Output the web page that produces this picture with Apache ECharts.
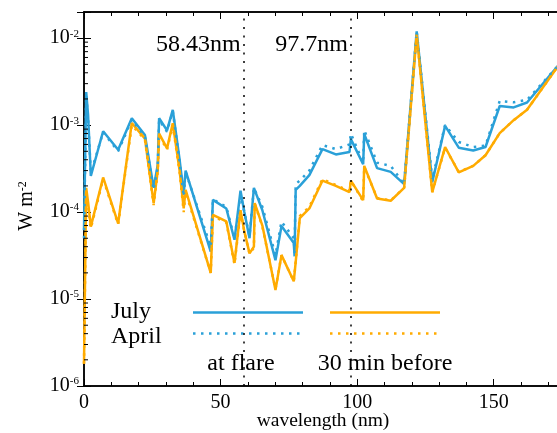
<!DOCTYPE html>
<html><head><meta charset="utf-8">
<script src="https://cdn.jsdelivr.net/npm/echarts@6.0.0/dist/echarts.min.js"></script>
<style>html,body{margin:0;padding:0;background:#fff}#c{width:557px;height:433px}</style>
</head><body><div id="c"></div>
<script>
const wavelengths = [0, 0.8, 1.5, 2.5, 7, 12.5, 17.5, 22.3, 25.5, 27, 27.5, 30.4, 32.5, 35, 36.5, 37.2,
  46.4, 47.2, 52.1, 55.1, 57.3, 58.7, 60.6, 62.2, 62.5, 65.3, 70.1, 72.3, 76.8, 77.1, 77.5, 79,
  82.5, 87.3, 92.2, 97.2, 97.7, 102.2, 102.6, 107.3, 112.3, 117.2, 121.8, 127.5, 132.2, 137.2,
  142.5, 147, 152.2, 157.3, 162.2, 174];
const julyFlare = [6.2e-5, 2.4e-3, 1.3e-3, 2.6e-4, 8.5e-4, 5.2e-4, 1.2e-3, 7.7e-4, 1.9e-4, 3.5e-4, 1.2e-3, 8.7e-4, 1.5e-3, 4.0e-4, 1.6e-4, 3.0e-4,
  3.5e-5, 1.38e-4, 1.1e-4, 4.8e-5, 1.76e-4, 1.0e-4, 5.0e-5, 1.9e-4, 1.85e-4, 1.05e-4, 2.8e-5, 6.9e-5, 4.4e-5, 3.1e-5, 1.8e-4, 2.0e-4,
  2.66e-4, 5.3e-4, 4.6e-4, 4.9e-4, 6.9e-4, 3.56e-4, 7.9e-4, 3.2e-4, 2.9e-4, 2.1e-4, 1.2e-2, 2.2e-4, 9.8e-4, 5.5e-4,
  5.1e-4, 5.6e-4, 1.66e-3, 1.6e-3, 1.82e-3, 5.0e-3];
const aprilFlare = [5.0e-5, 2.2e-3, 1.2e-3, 2.8e-4, 8.3e-4, 5.0e-4, 1.15e-3, 7.4e-4, 1.8e-4, 3.3e-4, 1.15e-3, 8.4e-4, 1.45e-3, 3.8e-4, 1.5e-4, 2.9e-4,
  4.0e-5, 1.4e-4, 1.15e-4, 5.0e-5, 1.6e-4, 1.0e-4, 5.3e-5, 1.9e-4, 1.85e-4, 1.15e-4, 3.2e-5, 7.8e-5, 5.0e-5, 3.4e-5, 2.1e-4, 2.3e-4,
  3.0e-4, 5.9e-4, 5.3e-4, 6.0e-4, 8.0e-4, 3.7e-4, 8.8e-4, 3.7e-4, 3.4e-4, 2.1e-4, 1.2e-2, 2.4e-4, 1.0e-3, 6.4e-4,
  5.6e-4, 5.8e-4, 1.9e-3, 1.83e-3, 1.95e-3, 5.0e-3];
const julyBefore = [1.8e-6, 1.9e-4, 1.3e-4, 6.8e-5, 2.5e-4, 7.4e-5, 1.06e-3, 7.0e-4, 1.26e-4, 3.0e-4, 8.0e-4, 5.4e-4, 1.05e-3, 3.0e-4, 1.1e-4, 1.8e-4,
  2.0e-5, 9.3e-5, 7.8e-5, 2.6e-5, 1.05e-4, 6.0e-5, 3.35e-5, 4.0e-5, 1.27e-4, 7.0e-5, 1.27e-5, 3.2e-5, 1.6e-5, 1.54e-5, 2.66e-5, 8.5e-5,
  1.1e-4, 2.3e-4, 2.0e-4, 1.7e-4, 2.3e-4, 1.37e-4, 3.4e-4, 1.43e-4, 1.35e-4, 1.9e-4, 1.1e-2, 1.7e-4, 5.6e-4, 2.86e-4,
  3.4e-4, 4.5e-4, 8.1e-4, 1.14e-3, 1.5e-3, 5.0e-3];
const aprilBefore = [1.8e-6, 1.8e-4, 1.2e-4, 6.5e-5, 2.4e-4, 7.2e-5, 1.0e-3, 6.8e-4, 1.2e-4, 2.9e-4, 7.6e-4, 5.2e-4, 1.0e-3, 2.9e-4, 1.0e-4, 1.7e-4,
  2.0e-5, 9.0e-5, 7.6e-5, 2.5e-5, 1.0e-4, 6.0e-5, 3.3e-5, 3.9e-5, 1.25e-4, 6.8e-5, 1.3e-5, 3.2e-5, 1.6e-5, 1.55e-5, 2.7e-5, 9.0e-5,
  1.15e-4, 2.4e-4, 2.05e-4, 1.75e-4, 2.3e-4, 1.33e-4, 3.3e-4, 1.45e-4, 1.36e-4, 1.9e-4, 1.1e-2, 1.7e-4, 5.5e-4, 2.9e-4,
  3.4e-4, 4.5e-4, 8.1e-4, 1.14e-3, 1.5e-3, 5.0e-3];
const markerLines = [58.43, 97.7];
const markerLabels = ['58.43nm', '97.7nm'];
const rowLabels = ['July', 'April'];
const colLabels = ['at flare', '30 min before'];

const BLUE = '#2aa0d8', ORANGE = '#ffab00', FONT = 'Liberation Serif';
const DOT = [2.5, 5.5];
const yMinor = [];
for (let e = -6; e <= -2; e++) for (let m = 2; m <= 9; m++) { const v = m * Math.pow(10, e); if (v < 0.02) yMinor.push(v); }

function pairs(ys) { return wavelengths.map((w, i) => [w, ys[i]]); }
const chart = echarts.init(document.getElementById('c'));
const axisLineStyle = { color: '#000', width: 1.5 };
function xAx(pos, interval, len, labels) {
  return {
    type: 'value', min: 0, max: 175, interval: interval, position: pos, gridIndex: 0,
    axisLine: { show: true, onZero: false, lineStyle: axisLineStyle },
    axisTick: { show: true, inside: true, length: len, lineStyle: { color: '#000', width: 1 } },
    splitLine: { show: false },
    axisLabel: labels ? {
      show: true, margin: 7, color: '#000', fontSize: 20, fontFamily: FONT,
      formatter: v => (v % 50 === 0 ? String(v) : '')
    } : { show: false }
  };
}
function yAx(pos, labels) {
  return {
    type: 'log', logBase: 10, min: 1e-6, max: 0.02, position: pos,
    axisLine: { show: true, lineStyle: axisLineStyle },
    axisTick: { show: true, inside: true, length: 7, lineStyle: { color: '#000', width: 1 } },
    splitLine: { show: false }, minorTick: { show: false },
    axisLabel: labels ? {
      show: true, margin: 5, color: '#000',
      formatter: v => { const e = Math.log10(v); const r = Math.round(e); return Math.abs(e - r) > 1e-6 ? '' : '{b|10}{s|' + r + '}'; },
      rich: { b: { fontSize: 20, fontFamily: FONT, color: '#000' }, s: { fontSize: 11, fontFamily: FONT, color: '#000', verticalAlign: 'top' } }
    } : { show: false }
  };
}
function lineSeries(name, ys, color, dash, z) {
  return {
    name: name, type: 'line', data: pairs(ys), symbol: 'none', showSymbol: false, z: z,
    lineStyle: { color: color, width: 2.5, type: dash ? DOT : 'solid', cap: 'butt' },
    emphasis: { disabled: true }, silent: true
  };
}
const xb = xAx('bottom', 50, 7, true);
xb.name = 'wavelength (nm)'; xb.nameLocation = 'middle'; xb.nameGap = 25; xb.nameMoveOverlap = false;
xb.nameTextStyle = { fontSize: 19.5, fontFamily: FONT, color: '#000' };

const option = {
  animation: false,
  backgroundColor: '#fff',
  grid: { left: 84, top: 12, width: 478, height: 374, containLabel: false, outerBoundsMode: 'none' },
  xAxis: [xb, xAx('bottom', 10, 4, false), xAx('top', 50, 7, false), xAx('top', 10, 4, false)],
  yAxis: [yAx('left', true), yAx('right', false)],
  series: [
    lineSeries('July at flare', julyFlare, BLUE, false, 3),
    lineSeries('July 30 min before', julyBefore, ORANGE, false, 4),
    lineSeries('April at flare', aprilFlare, BLUE, true, 5),
    Object.assign(lineSeries('April 30 min before', aprilBefore, ORANGE, true, 6), {
      markLine: {
        silent: true, symbol: ['none', 'none'], label: { show: false },
        lineStyle: { color: '#000', width: 1.5, type: [2, 6.5] },
        emphasis: { disabled: true },
        data: markerLines.map(v => ({ xAxis: v }))
      }
    }),
    {
      type: 'custom', z: 10, silent: true, clip: false,
      data: yMinor.map(v => [0, v]),
      renderItem: function (params, api) {
        const y = api.coord([0, api.value(1)])[1];
        const cs = params.coordSys;
        return { type: 'group', children: [
          { type: 'line', shape: { x1: cs.x, y1: y, x2: cs.x + 4, y2: y }, style: { stroke: '#000', lineWidth: 1 } },
          { type: 'line', shape: { x1: cs.x + cs.width, y1: y, x2: cs.x + cs.width - 4, y2: y }, style: { stroke: '#000', lineWidth: 1 } }
        ] };
      }
    }
  ]
};
chart.setOption(option);

const g = [];
markerLines.forEach((v, i) => {
  const px = chart.convertToPixel({ xAxisIndex: 0 }, v);
  g.push({ type: 'text', x: px - 3, y: 45, z: 20,
    style: { text: markerLabels[i], fontSize: 24, fontFamily: FONT, fill: '#000', align: 'right', verticalAlign: 'middle' } });
});
g.push({ type: 'text', x: 27, y: 206, rotation: Math.PI / 2, z: 20,
  style: { text: 'W m{s|-2}', fontSize: 20, fontFamily: FONT, fill: '#000', align: 'center', verticalAlign: 'middle',
    rich: { s: { fontSize: 12, fontFamily: FONT, verticalAlign: 'top' } } } });
const rowY = [312.5, 333.5];
const colX = [[193, 303], [330, 440]];
rowLabels.forEach((t, i) => g.push({ type: 'text', x: 111, y: rowY[i] + (i === 0 ? -1 : 3), z: 20,
  style: { text: t, fontSize: 24, fontFamily: FONT, fill: '#000', align: 'left', verticalAlign: 'middle' } }));
const cols = [BLUE, ORANGE];
colX.forEach((cx, j) => {
  rowY.forEach((ry, i) => g.push({ type: 'line', z: 1,
    shape: { x1: cx[0], y1: ry, x2: cx[1], y2: ry },
    style: { stroke: cols[j], lineWidth: 2.5, lineDash: i === 1 ? DOT : null } }));
  g.push({ type: 'text', x: (cx[0] + cx[1]) / 2 - (j === 0 ? 7 : 0) , y: 364, z: 20,
    style: { text: colLabels[j], fontSize: 24, fontFamily: FONT, fill: '#000', align: 'center', verticalAlign: 'middle' } });
});
chart.setOption({ graphic: g });
</script></body></html>
